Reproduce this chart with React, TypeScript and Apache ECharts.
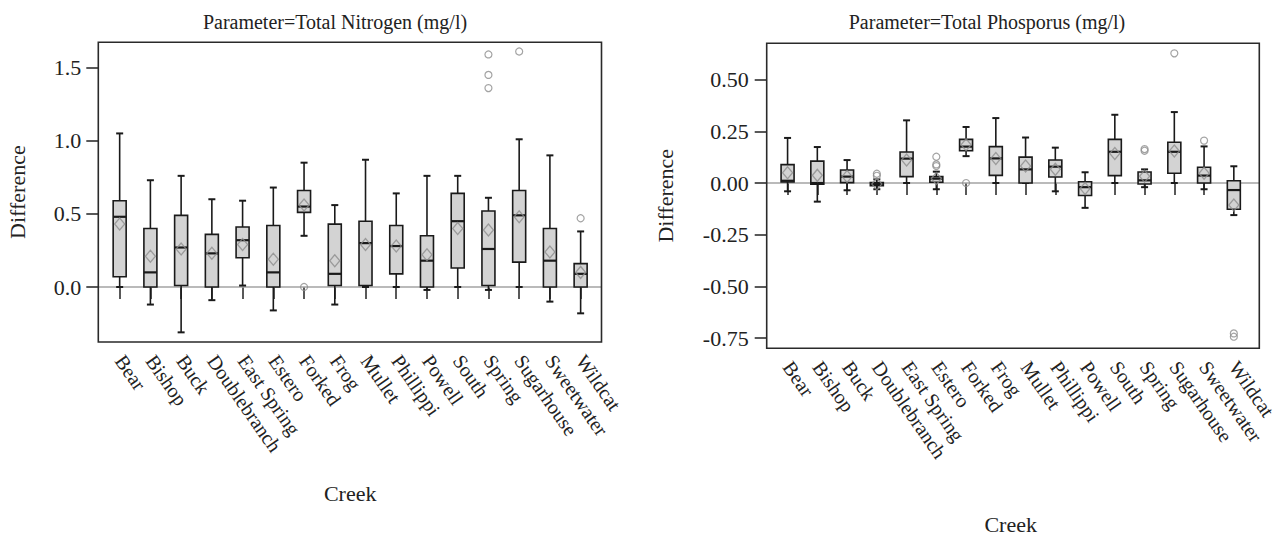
import React, { useEffect, useRef } from "react";
import * as echarts from "echarts";

const creeks = ["Bear", "Bishop", "Buck", "Doublebranch", "East Spring", "Estero", "Forked", "Frog", "Mullet", "Phillippi", "Powell", "South", "Spring", "Sugarhouse", "Sweetwater", "Wildcat"];

// Total Nitrogen (mg/l)
const nMin = [0.0, -0.12, -0.31, -0.09, 0.01, -0.16, 0.35, -0.12, 0.0, 0.0, -0.02, 0.0, -0.02, 0.0, -0.1, -0.18];
const nQ1 = [0.07, 0.0, 0.01, 0.0, 0.2, 0.0, 0.51, 0.01, 0.01, 0.09, 0.0, 0.13, 0.01, 0.17, 0.0, 0.0];
const nMed = [0.48, 0.1, 0.27, 0.23, 0.32, 0.1, 0.55, 0.09, 0.3, 0.28, 0.18, 0.45, 0.26, 0.49, 0.18, 0.09];
const nQ3 = [0.59, 0.4, 0.49, 0.36, 0.41, 0.42, 0.66, 0.43, 0.45, 0.42, 0.35, 0.64, 0.52, 0.66, 0.4, 0.16];
const nMax = [1.05, 0.73, 0.76, 0.6, 0.59, 0.68, 0.85, 0.56, 0.87, 0.64, 0.76, 0.76, 0.61, 1.01, 0.9, 0.38];
const nMean = [0.43, 0.21, 0.26, 0.23, 0.29, 0.19, 0.56, 0.18, 0.29, 0.28, 0.22, 0.4, 0.39, 0.48, 0.24, 0.1];
const nOutliers: [string, number][] = [["Forked", 0.0], ["Spring", 1.59], ["Spring", 1.45], ["Spring", 1.36], ["Sugarhouse", 1.61], ["Wildcat", 0.47]];
const nTicks = [0, 0.5, 1.0, 1.5];

// Total Phosporus (mg/l)
const pMin = [-0.04, -0.09, -0.035, -0.03, 0.0, -0.03, 0.13, 0.0, 0.0, -0.04, -0.12, 0.0, -0.02, 0.0, -0.03, -0.155];
const pQ1 = [0.005, -0.006, 0.002, -0.013, 0.031, 0.004, 0.156, 0.037, 0.0, 0.029, -0.06, 0.036, -0.005, 0.047, 0.0, -0.127];
const pMed = [0.011, 0.0, 0.031, -0.005, 0.118, 0.021, 0.176, 0.119, 0.066, 0.079, -0.02, 0.151, 0.013, 0.151, 0.036, -0.034];
const pQ3 = [0.089, 0.106, 0.063, 0.002, 0.15, 0.031, 0.211, 0.176, 0.125, 0.111, 0.006, 0.211, 0.053, 0.197, 0.076, 0.011];
const pMax = [0.218, 0.174, 0.111, 0.018, 0.303, 0.055, 0.271, 0.314, 0.22, 0.171, 0.052, 0.33, 0.066, 0.343, 0.177, 0.081];
const pMean = [0.05, 0.037, 0.031, -0.005, 0.111, 0.022, 0.185, 0.119, 0.082, 0.066, -0.027, 0.143, 0.033, 0.155, 0.047, -0.106];
const pOutliers: [string, number][] = [["Doublebranch", 0.045], ["Doublebranch", 0.035], ["Estero", 0.127], ["Estero", 0.09], ["Estero", 0.082], ["Forked", 0.0], ["Spring", 0.164], ["Spring", 0.156], ["Sugarhouse", 0.627], ["Sweetwater", 0.205], ["Wildcat", -0.727], ["Wildcat", -0.743]];
const pTicks = [-0.75, -0.5, -0.25, 0, 0.25, 0.5];

const FONT = "'Liberation Serif', 'DejaVu Serif', serif";
const INK = "#222";

const GRIDS = [
  { left: 104.3, top: 42.3, width: 491.7, height: 299.7 },
  { left: 772.7, top: 43.3, width: 476, height: 305 },
];
const FRAME_PAD = [
  { l: 6, r: 5.5 },
  { l: 6, r: 10.6 },
];

export default function App() {
  const ref = useRef<HTMLDivElement>(null);
  useEffect(() => {
    if (!ref.current) return;
    const chart = echarts.init(ref.current, null, { renderer: "svg" });

    const boxRender = (params: any, api: any) => {
      const i = api.value(0);
      const lo = api.coord([i, api.value(1)]);
      const q1 = api.coord([i, api.value(2)]);
      const md = api.coord([i, api.value(3)]);
      const q3 = api.coord([i, api.value(4)]);
      const hi = api.coord([i, api.value(5)]);
      const cx = md[0];
      const bw = 13, cw = 3.5;
      const ls = { stroke: "#1a1a1a", lineWidth: 1.6 };
      return {
        type: "group",
        children: [
          { type: "line", shape: { x1: cx, y1: hi[1], x2: cx, y2: q3[1] }, style: ls },
          { type: "line", shape: { x1: cx - cw, y1: hi[1], x2: cx + cw, y2: hi[1] }, style: { ...ls, lineWidth: 2 } },
          { type: "line", shape: { x1: cx, y1: q1[1], x2: cx, y2: lo[1] }, style: ls },
          { type: "line", shape: { x1: cx - cw, y1: lo[1], x2: cx + cw, y2: lo[1] }, style: { ...ls, lineWidth: 2 } },
          { type: "rect", shape: { x: cx - bw / 2, y: q3[1], width: bw, height: Math.max(q1[1] - q3[1], 1) }, style: { fill: "#d3d3d3", stroke: "#1a1a1a", lineWidth: 1.6 } },
          { type: "line", shape: { x1: cx - bw / 2, y1: md[1], x2: cx + bw / 2, y2: md[1] }, style: { ...ls, lineWidth: 2.2 } },
        ],
      };
    };

    const makeZeroRender = (gi: number) => (params: any, api: any) => {
      const cs = params.coordSys;
      const y = api.coord([0, 0])[1];
      return {
        type: "line",
        shape: { x1: cs.x - FRAME_PAD[gi].l, y1: y, x2: cs.x + cs.width + FRAME_PAD[gi].r, y2: y },
        style: { stroke: "#a3a3a3", lineWidth: 1.5 },
      };
    };

    const panels = [
      { min: nMin, q1: nQ1, med: nMed, q3: nQ3, max: nMax, mean: nMean, out: nOutliers },
      { min: pMin, q1: pQ1, med: pMed, q3: pQ3, max: pMax, mean: pMean, out: pOutliers },
    ];

    const series: any[] = [];
    panels.forEach((p, gi) => {
      series.push({
        type: "custom", xAxisIndex: gi, yAxisIndex: gi, z: 1,
        renderItem: makeZeroRender(gi), data: [[0, 0]], silent: true,
      });
      series.push({
        type: "custom", xAxisIndex: gi, yAxisIndex: gi, z: 2,
        renderItem: boxRender,
        encode: { x: 0, y: [1, 2, 3, 4, 5] },
        data: creeks.map((c, i) => [i, p.min[i], p.q1[i], p.med[i], p.q3[i], p.max[i]]),
      });
      series.push({
        type: "scatter", xAxisIndex: gi, yAxisIndex: gi, z: 3,
        symbol: "diamond", symbolSize: [10, 12],
        itemStyle: { color: "rgba(0,0,0,0)", borderColor: "#8c8c8c", borderWidth: 1.3 },
        data: creeks.map((c, i) => [i, p.mean[i]]),
      });
      series.push({
        type: "scatter", xAxisIndex: gi, yAxisIndex: gi, z: 3,
        symbol: "circle", symbolSize: 7,
        itemStyle: { color: "rgba(0,0,0,0)", borderColor: "#8c8c8c", borderWidth: 1.2 },
        data: p.out.map(([c, v]) => [creeks.indexOf(c), v]),
      });
    });

    const textStyle = { fontFamily: FONT, color: INK };

    const option: any = {
      animation: false,
      backgroundColor: "#fff",
      grid: GRIDS.map((g) => ({ ...g, outerBoundsMode: "none", containLabel: false })),
      xAxis: [0, 1].map((gi) => ({
        type: "category", gridIndex: gi, data: creeks, boundaryGap: true,
        axisLine: { show: false },
        axisTick: { show: true, alignWithLabel: true, length: 12, lineStyle: { color: INK, width: 1.5 } },
        axisLabel: { interval: 0, rotate: -55, margin: 15, fontSize: 20, ...textStyle },
        splitLine: { show: false },
        name: "Creek", nameLocation: "middle", nameGap: gi === 0 ? 140 : 165,
        nameTextStyle: { fontSize: 22, ...textStyle },
      })),
      yAxis: [0, 1].map((gi) => {
        const ticks = gi === 0 ? nTicks : pTicks;
        return {
          type: "value", gridIndex: gi,
          min: gi === 0 ? -0.376 : -0.799, max: gi === 0 ? 1.673 : 0.6755,
          offset: FRAME_PAD[gi].l,
          axisLine: { show: false },
          axisTick: { show: true, length: 12, customValues: ticks, lineStyle: { color: INK, width: 1.5 } },
          axisLabel: {
            customValues: ticks, margin: gi === 0 ? 17 : 18, fontSize: 22, ...textStyle,
            formatter: (v: number) => v.toFixed(gi === 0 ? 1 : 2),
          },
          splitLine: { show: false },
          name: "Difference", nameLocation: "middle", nameRotate: 90, nameGap: gi === 0 ? 70 : 90,
          nameTextStyle: { fontSize: 22, ...textStyle },
        };
      }),
      graphic: [
        ...GRIDS.map((g, gi) => ({
          type: "rect", z: 10, silent: true,
          shape: { x: g.left - FRAME_PAD[gi].l, y: g.top, width: g.width + FRAME_PAD[gi].l + FRAME_PAD[gi].r, height: g.height },
          style: { fill: "none", stroke: "#2a2a2a", lineWidth: 1.6 },
        })),
        { type: "text", x: 335, y: 22, style: { text: "Parameter=Total Nitrogen (mg/l)", textAlign: "center", textVerticalAlign: "middle", fontSize: 20, fontFamily: FONT, fill: INK } },
        { type: "text", x: 987, y: 22, style: { text: "Parameter=Total Phosporus (mg/l)", textAlign: "center", textVerticalAlign: "middle", fontSize: 20, fontFamily: FONT, fill: INK } },
      ],
      series,
    };
    chart.setOption(option);
    return () => chart.dispose();
  }, []);
  return <div ref={ref} style={{ position: "fixed", left: 0, top: 0, width: 1281, height: 537 }} />;
}
